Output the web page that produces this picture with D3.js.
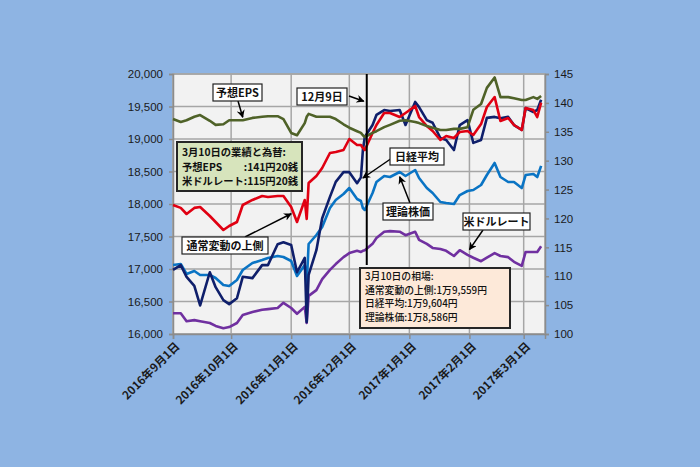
<!DOCTYPE html>
<html><head><meta charset="utf-8">
<script src="https://cdn.jsdelivr.net/npm/d3@7"></script>
<style>
html,body{margin:0;padding:0;background:#8eb4e3;}
svg{display:block;}
text{font-family:"Noto Sans CJK JP","Liberation Sans",sans-serif;}
</style></head>
<body>
<svg id="chart" width="700" height="467"></svg>
<script>
const dates = ['2016-09-01','2016-09-05','2016-09-08','2016-09-12','2016-09-15','2016-09-20','2016-09-23','2016-09-27','2016-09-30',
'2016-10-04','2016-10-07','2016-10-12','2016-10-17','2016-10-20','2016-10-25','2016-10-28',
'2016-11-01','2016-11-04','2016-11-08','2016-11-09','2016-11-10','2016-11-14','2016-11-17','2016-11-21','2016-11-24','2016-11-28',
'2016-12-01','2016-12-05','2016-12-07','2016-12-08','2016-12-09','2016-12-13','2016-12-15','2016-12-19','2016-12-22','2016-12-27','2016-12-30',
'2017-01-04','2017-01-06','2017-01-10','2017-01-13','2017-01-17','2017-01-20','2017-01-24','2017-01-27','2017-01-31',
'2017-02-03','2017-02-07','2017-02-10','2017-02-14','2017-02-17','2017-02-21','2017-02-24','2017-02-28',
'2017-03-02','2017-03-06','2017-03-08','2017-03-10'];

// left axis (円)
const nikkei = [16985,17060,16880,16740,16440,16950,16720,16520,16460, 16550,16880,16860,17060,17060,17380,17410,
 17370,16950,17170,16185,16910,17290,17780,18110,18340,18490,
 18490,18320,18410,18830,19030,19215,19370,19445,19430,19445,19215,
 19570,19490,19290,19250,19015,18985,18830,19215,19290,
 18940,18985,19325,19340,19320,19340,19215,19140,
 19477,19415,19446,19604];
const upperBand = [17985,17940,17846,17940,17954,17815,17723,17600,17662, 17723,17985,18062,18123,18108,18123,18123,
 17954,17723,18062,17770,18323,18430,18554,18785,18800,18831,
 19000,18908,18908,18862,18831,19092,19215,19400,19400,19338,19400,
 19508,19338,19200,19123,18985,19046,19015,19108,19123,
 19062,19230,19492,19646,19277,19323,19215,19138,
 19477,19446,19338,19559];
const theoretical = [17062,17077,16923,16969,16908,16908,16862,16754,16738, 16831,16985,17092,17138,17169,17200,17185,
 17123,16892,17062,16754,17385,17523,17646,17938,18062,18154,
 18246,18077,18046,17938,17908,18169,18338,18431,18415,18492,18431,
 18523,18400,18246,18169,18031,18015,18000,18138,18200,
 18215,18292,18446,18631,18415,18338,18338,18246,
 18446,18462,18415,18586];
// right axis
const usdjpy = [103.6,103.6,102.2,102.4,102.2,101.9,101.4,101.0,101.2, 101.9,103.3,103.8,104.2,104.3,104.5,105.4,
 104.5,103.5,104.7,101.9,106.6,107.6,109.5,111.1,112.1,113.3,
 114.0,114.4,114.2,114.4,114.5,115.6,116.6,117.7,117.8,117.7,117.1,
 117.7,116.3,115.6,114.9,114.7,114.4,113.5,114.5,113.7,
 113.2,112.6,113.2,114.0,113.5,113.3,112.5,111.8,
 114.2,114.2,114.2,115.2];
const eps = [137.2,136.7,137.0,137.6,137.9,136.9,136.2,136.3,137.0, 137.0,137.0,137.4,137.6,137.7,137.7,137.2,
 134.8,134.4,136.5,137.6,138.1,137.6,137.6,137.6,137.2,136.3,
 135.7,135.1,134.8,134.4,134.1,134.8,135.1,135.8,136.2,136.9,137.0,
 136.7,136.5,136.0,135.7,135.3,135.3,135.5,135.5,135.8,
 138.8,139.8,142.6,144.4,141.0,141.0,140.8,140.5,
 140.5,141.0,140.7,141.2];

const leftTicks = [16000,16500,17000,17500,18000,18500,19000,19500,20000];
const rightTicks = [100,105,110,115,120,125,130,135,140,145];
const xTickDates = ['2016-09-01','2016-10-01','2016-11-01','2016-12-01','2017-01-01','2017-02-01','2017-03-01'];
const xTickLabels = ['2016年9月1日','2016年10月1日','2016年11月1日','2016年12月1日','2017年1月1日','2017年2月1日','2017年3月1日'];
const markerDate = '2016-12-10';

const parse = d3.timeParse('%Y-%m-%d');
const svg = d3.select('#chart');
const L = 173, R = 545, T = 74, B = 334;

const x = d3.scaleTime().domain([parse('2016-09-01'), parse('2017-03-12')]).range([L, R]);
const yL = d3.scaleLinear().domain([16000, 20000]).range([B, T]);
const yR = d3.scaleLinear().domain([100, 145]).range([B, T]);

// plot background
svg.append('rect').attr('x', L).attr('y', T).attr('width', R - L).attr('height', B - T)
  .attr('fill', '#f2f2f2').attr('stroke', '#a6a6a6').attr('stroke-width', 1.5);

// gridlines
svg.append('g').selectAll('line').data(leftTicks).join('line')
  .attr('x1', L).attr('x2', R).attr('y1', d => yL(d)).attr('y2', d => yL(d))
  .attr('stroke', '#a6a6a6').attr('stroke-width', 1.5);
svg.append('g').selectAll('line').data(xTickDates).join('line')
  .attr('x1', d => x(parse(d))).attr('x2', d => x(parse(d))).attr('y1', T).attr('y2', B)
  .attr('stroke', '#a6a6a6').attr('stroke-width', 1.5);

// axes
const axL = svg.append('g').attr('transform', `translate(${L},0)`)
  .call(d3.axisLeft(yL).tickValues(leftTicks).tickFormat(d3.format(',')).tickSize(4).tickPadding(6));
const axR = svg.append('g').attr('transform', `translate(${R},0)`)
  .call(d3.axisRight(yR).tickValues(rightTicks).tickSize(4).tickPadding(5));
const axB = svg.append('g').attr('transform', `translate(0,${B})`)
  .call(d3.axisBottom(x).tickValues(xTickDates.map(parse)).tickFormat((d, i) => xTickLabels[i]).tickSize(5).tickPadding(4));
[axL, axR, axB].forEach(a => {
  a.selectAll('.domain').attr('stroke', '#8c8c8c').attr('stroke-width', 1.5);
  a.selectAll('.tick line').attr('stroke', '#8c8c8c').attr('stroke-width', 1.5);
  a.selectAll('text').attr('fill', '#1a1a1a').style('font-family', '"Liberation Sans",Arial,sans-serif').style('font-size', '11.5px');
});
axB.selectAll('text').style('font-family', '"Noto Sans CJK JP",sans-serif').style('font-size', '11.5px').style('font-weight', 'bold')
  .attr('text-anchor', 'end').attr('x', 0).attr('y', 0).attr('dy', 0)
  .attr('transform', 'translate(7,13) rotate(-45)');

// lines
const series = [
  {v: usdjpy, s: yR, c: '#7030a0'},
  {v: theoretical, s: yL, c: '#0a74c4'},
  {v: nikkei, s: yL, c: '#0f1f6b'},
  {v: upperBand, s: yL, c: '#e00012'},
  {v: eps, s: yR, c: '#4f6228'}
];
series.forEach(ser => {
  const line = d3.line().x((d, i) => x(parse(dates[i]))).y(d => ser.s(d));
  svg.append('path').datum(ser.v).attr('d', line).attr('fill', 'none')
    .attr('stroke', ser.c).attr('stroke-width', 2.6).attr('stroke-linejoin', 'round');
});

// vertical marker line
svg.append('line').attr('x1', x(parse(markerDate))).attr('x2', x(parse(markerDate)))
  .attr('y1', T).attr('y2', 265).attr('stroke', '#000').attr('stroke-width', 2);

// arrow marker
svg.append('defs').append('marker').attr('id', 'arr').attr('viewBox', '0 0 10 10')
  .attr('refX', 9).attr('refY', 5).attr('markerWidth', 8).attr('markerHeight', 8)
  .attr('markerUnits', 'userSpaceOnUse').attr('orient', 'auto')
  .append('path').attr('d', 'M0,0 L10,5 L0,10 L3,5 z').attr('fill', '#000');

function arrow(x1, y1, x2, y2) {
  svg.append('line').attr('x1', x1).attr('y1', y1).attr('x2', x2).attr('y2', y2)
    .attr('stroke', '#000').attr('stroke-width', 1.5).attr('marker-end', 'url(#arr)');
}
function label(bx, by, bw, bh, txt) {
  svg.append('rect').attr('x', bx).attr('y', by).attr('width', bw).attr('height', bh)
    .attr('fill', '#fff').attr('stroke', '#222').attr('stroke-width', 1.2);
  svg.append('text').attr('x', bx + bw / 2).attr('y', by + bh / 2 + 4).attr('text-anchor', 'middle')
    .style('font-size', '11px').style('font-weight', 'bold').attr('fill', '#111').text(txt);
}

// callouts
arrow(238, 101, x(parse('2016-10-07')), yR(137.5));
label(213, 84, 49, 17, '予想EPS');

arrow(349, 96, x(parse(markerDate)) - 3, yL(19580));
label(297, 88, 50, 17, '12月9日');

arrow(392, 158, x(parse('2016-12-08')), yL(18400));
label(390, 148, 54, 17, '日経平均');

arrow(410, 203, x(parse('2016-12-27')), yL(18420));
label(383, 203, 50, 17, '理論株価');

arrow(483, 230, x(parse('2017-02-01')), yR(114.6));
label(463, 213, 67, 17, '米ドルレート');

arrow(245, 237, x(parse('2016-11-01')), yL(17850));
label(182, 237, 86, 17, '通常変動の上側');

// green info box
svg.append('rect').attr('x', 177).attr('y', 142).attr('width', 125).attr('height', 49)
  .attr('fill', '#d7e4bc').attr('stroke', '#262626').attr('stroke-width', 2);
const g1 = svg.append('g').style('font-size', '10.3px').style('font-weight', 'bold').attr('fill', '#111');
g1.append('text').attr('x', 182).attr('y', 156).text('3月10日の業績と為替:');
g1.append('text').attr('x', 182).attr('y', 171).text('予想EPS');
const t3 = g1.append('text').attr('x', 182).attr('y', 185).text('米ドルレート');
const colonX = 182 + t3.node().getComputedTextLength();
g1.append('text').attr('x', colonX).attr('y', 171).text(':141円20銭');
g1.append('text').attr('x', colonX).attr('y', 185).text(':115円20銭');

// peach box
svg.append('rect').attr('x', 360).attr('y', 268).attr('width', 150).attr('height', 60)
  .attr('fill', '#fde9d9').attr('stroke', '#262626').attr('stroke-width', 2);
const pLines = ['3月10日の相場:', '通常変動の上側:1万9,559円', '日経平均:1万9,604円', '理論株価:1万8,586円'];
svg.append('g').style('font-size', '9.8px').attr('fill', '#111').style('font-weight', '500')
  .selectAll('text').data(pLines).join('text')
  .attr('x', 365).attr('y', (d, i) => 280 + i * 13.6).text(d => d);
</script>
</body></html>
